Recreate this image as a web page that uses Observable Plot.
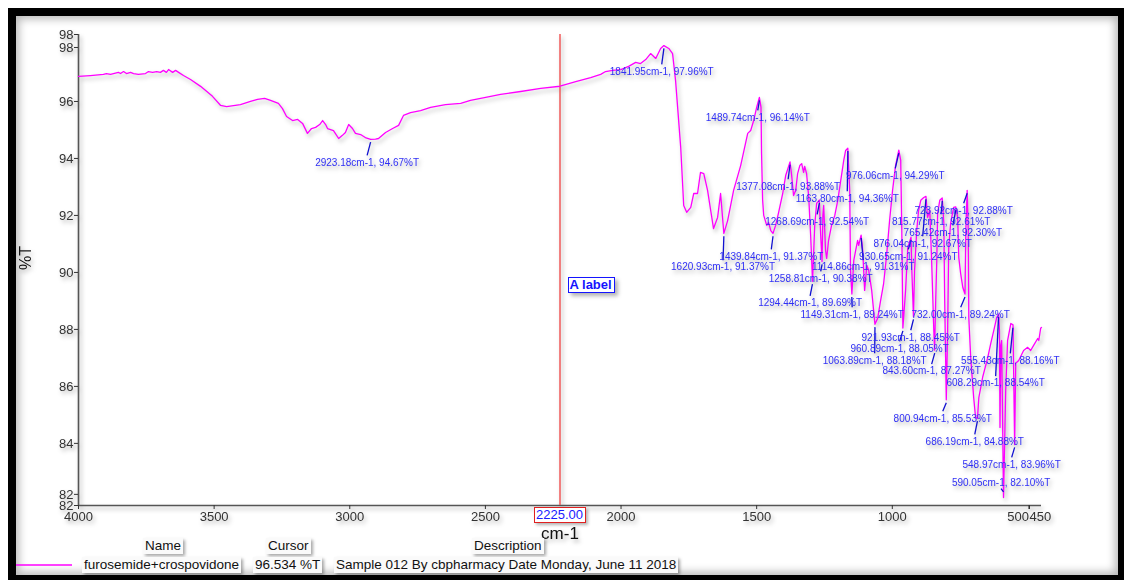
<!DOCTYPE html>
<html>
<head>
<meta charset="utf-8">
<script src="https://cdn.jsdelivr.net/npm/d3@7"></script>
<script src="https://cdn.jsdelivr.net/npm/@observablehq/plot@0.6"></script>
<style>
  html, body { margin: 0; padding: 0; background: #fff; }
  body { width: 1124px; height: 580px; position: relative; overflow: hidden;
         font-family: "Liberation Sans", Arial, sans-serif; }
  #frame { position: absolute; left: 8px; top: 8px; width: 1118px; height: 575px;
           box-sizing: border-box; border: 8px solid #000;
           box-shadow: inset 0 0 9px 3px rgba(0,0,0,0.28); }
  #chart { position: absolute; left: 0; top: 0; }
  #chart svg { filter: drop-shadow(2px 3px 2px rgba(0,0,0,0.3)); }
  .box { position: absolute; white-space: nowrap; line-height: 1; }
  .lg { position: absolute; white-space: nowrap; font-size: 13.5px; line-height: 16px;
        background: #fafafa; padding: 0 2px; box-shadow: 2px 2px 3px rgba(0,0,0,0.35); color: #111; }
</style>
</head>
<body>
<div id="frame"></div>
<div id="chart"></div>
<script>
// ---- data ----
const wavenumber = [4000,3956,3908,3897,3882,3853,3845,3834,3823,3808,3797,3779,3753,3742,3727,3712,3698,3687,3676,3668,3653,3642,3631,3613,3587,3550,3506,3476,3454,3403,3366,3340,3314,3292,3263,3248,3233,3211,3192,3174,3156,3141,3126,3111,3100,3089,3082,3060,3041,3027,3016,3004,2990,2979,2960,2940,2923,2905,2894,2868,2842,2820,2802,2776,2739,2702,2647,2591,2555,2499,2444,2370,2296,2225,2167,2112,2075,2057,2031,2001,1972,1946,1928,1909,1891,1872,1854,1842,1824,1810,1799,1780,1769,1758,1743,1732,1718,1707,1695,1681,1659,1644,1633,1621,1607,1585,1559,1533,1522,1511,1500,1490,1484,1482,1478,1474,1463,1456,1448,1440,1430,1419,1404,1393,1377,1371,1364,1356,1349,1341,1334,1327,1323,1316,1308,1301,1294,1286,1279,1269,1264,1259,1256,1253,1246,1242,1235,1224,1212,1201,1190,1179,1172,1164,1157,1154,1149,1142,1135,1128,1124,1115,1109,1102,1094,1087,1076,1064,1054,1043,1032,1021,1010,999,988,976,969,965,961,951,943,931,928,922,918,910,903,895,884,876,870,862,855,847,844,840,836,833,825,816,810,807,801,796,792,785,774,766,759,755,748,740,732,729,724,720,718,711,700,693,686,681,667,648,637,626,615,608,605,603,600,597,590,582,575,563,555,549,545,534,516,501,490,479,464,460,453,450];
const transmittance = [96.88,96.91,96.95,96.98,96.95,97.02,96.98,97.05,96.98,97.02,96.98,96.95,96.98,97.05,97.02,97.05,97.02,97.09,97.02,97.12,97.02,97.09,97.02,96.91,96.77,96.53,96.18,95.86,95.82,95.89,96.00,96.07,96.11,96.04,95.93,95.75,95.47,95.33,95.37,95.23,94.88,95.05,95.09,95.19,95.33,95.19,95.05,94.98,94.70,94.81,94.91,95.19,95.05,94.88,94.84,94.72,94.67,94.68,94.70,94.91,95.05,95.16,95.51,95.61,95.68,95.79,95.89,95.93,96.04,96.14,96.25,96.35,96.46,96.534,96.70,96.84,96.95,97.05,97.09,97.12,97.23,97.37,97.33,97.47,97.68,97.51,97.86,97.96,97.86,97.68,96.74,94.39,92.35,92.11,92.28,92.77,92.77,93.51,93.47,92.88,91.54,91.93,92.77,91.37,91.82,92.88,93.75,94.88,94.98,95.33,95.79,96.14,95.79,94.18,92.53,92.00,91.65,91.75,91.47,91.37,91.65,92.11,92.77,93.40,93.88,93.40,92.70,92.88,93.47,93.75,93.82,93.51,93.72,93.47,92.63,91.30,89.69,91.65,92.42,92.54,91.30,90.38,92.00,92.35,90.77,90.49,91.12,91.65,92.00,92.53,93.23,93.93,94.28,94.36,92.88,90.07,89.24,90.42,90.77,91.12,90.95,91.31,90.77,89.37,90.25,90.07,89.37,88.18,88.39,89.02,89.61,90.60,91.82,92.88,93.75,94.29,93.93,91.47,88.05,89.37,90.88,91.24,90.07,88.45,90.07,91.47,92.18,92.53,92.63,92.67,91.93,92.18,90.42,87.96,87.27,89.02,90.42,92.07,92.53,92.61,91.72,89.12,85.53,87.96,90.88,91.72,92.28,92.30,91.93,90.53,89.96,89.47,89.24,91.47,92.88,91.47,88.42,87.02,85.61,84.91,84.88,85.61,86.32,87.02,87.51,87.96,88.42,88.54,87.96,84.56,87.44,87.61,82.10,85.86,87.61,88.21,88.16,83.96,86.81,86.91,87.26,87.37,87.26,87.44,87.68,87.61,88.04,88.07];

// peak annotations
const peakWn = [1841.95,2923.18,1489.74,1377.08,1163.80,976.06,1268.69,723.92,815.77,765.42,876.04,930.65,1439.84,1620.93,1114.86,1258.81,1294.44,1149.31,732.00,921.93,960.89,1063.89,843.60,555.43,608.29,800.94,686.19,548.97,590.05];
const peakT  = [97.96,94.67,96.14,93.88,94.36,94.29,92.54,92.88,92.61,92.30,92.67,91.24,91.37,91.37,91.31,90.38,89.69,89.24,89.24,88.45,88.05,88.18,87.27,88.16,88.54,85.53,84.88,83.96,82.10];
const labelWn = [1850,2936,1496,1384,1166,989,1277,737,820,777,888,941,1446,1624,1107,1264,1303,1148,748,932,973,1065,855,565,619,814,696,560,599];
const labelT  = [97.05,93.86,95.44,93.02,92.60,93.40,91.79,92.18,91.79,91.40,91.02,90.56,90.56,90.18,90.18,89.79,88.93,88.53,88.53,87.72,87.33,86.91,86.53,86.91,86.11,84.88,84.07,83.26,82.63];

const xDomain = [4000, 450];
const yDomain = [81.82, 98.35];
const xTicks = [4000, 3500, 3000, 2500, 2000, 1500, 1000];
const yTicks = [84, 86, 88, 90, 92, 94, 96];
const cursorWn = 2225.00;
const cursorT = 96.534;
const noteText = "A label";
const noteT = 89.54;
const seriesName = "furosemide+crospovidone";
const description = "Sample 012 By cbpharmacy Date Monday, June 11 2018";
const legendHeaders = ["Name", "Cursor", "Description"];

// ---- build ----
const spectrum = wavenumber.map((w, i) => ({w, t: transmittance[i]}));
const peaks = peakWn.map((w, i) => ({w, t: peakT[i], lw: labelWn[i], lt: labelT[i]}));
const below = d => d.lt < d.t;

const font = "'Liberation Sans', Arial, sans-serif";
const axisColor = "#333";
const fmt = d => String(d);
const axOpts = {tickSize: 4, fontSize: 13, color: axisColor, label: null, tickFormat: fmt};

const plot = Plot.plot({
  width: 1124,
  height: 540,
  marginLeft: 78,
  marginRight: 83,
  marginTop: 34,
  marginBottom: 35,
  x: {domain: xDomain},
  y: {domain: yDomain},
  style: {fontFamily: font, background: "transparent", overflow: "visible", color: "#111"},
  marks: [
    Plot.ruleX([xDomain[0]], {stroke: "#555", strokeWidth: 1.6}),
    Plot.ruleY([yDomain[0]], {stroke: "#555", strokeWidth: 1.6}),
    Plot.ruleX([cursorWn], {stroke: "#f05a5a", strokeWidth: 1.5}),
    Plot.axisX(xTicks, {...axOpts, tickPadding: 2}),
    Plot.axisX([500], {...axOpts, tickPadding: 2, textAnchor: "end", dx: 1}),
    Plot.axisX([450], {...axOpts, tickPadding: 2, textAnchor: "start", dx: -12}),
    Plot.axisY(yTicks, {...axOpts, tickPadding: 1}),
    Plot.axisY([98], {...axOpts, tickPadding: 1, dy: 3}),
    Plot.axisY([82], {...axOpts, tickPadding: 1, dy: -6}),
    Plot.axisY(yDomain, {...axOpts, tickPadding: 1, tickFormat: d => Math.round(d)}),
    Plot.line(spectrum, {x: "w", y: "t", stroke: "#ff00ff", strokeWidth: 1.3}),
    Plot.link(peaks, {
      x1: "w", y1: d => d.t + (below(d) ? -0.1 : 0.2),
      x2: "lw", y2: d => d.lt + (below(d) ? 0.25 : -0.22),
      stroke: "#1010d0", strokeWidth: 1.3
    }),
    Plot.text(peaks, {
      x: "lw", y: "lt",
      text: d => `${d.w.toFixed(2)}cm-1, ${d.t.toFixed(2)}%T`,
      fontSize: 10, fill: "#3030f5", fontWeight: 500
    }),
    Plot.text(["%T"], {frameAnchor: "left", dx: -53, rotate: -90, fontSize: 16, fill: "#111"}),
    Plot.text(["cm-1"], {frameAnchor: "bottom", lineAnchor: "middle", dy: 28, fontSize: 17, fill: "#111"})
  ]
});
document.getElementById("chart").appendChild(plot);

const xs = plot.scale("x"), ys = plot.scale("y");
const cx = xs.apply(cursorWn);

function addBox(html, style) {
  const el = document.createElement("div");
  el.className = "box";
  el.innerHTML = html;
  Object.assign(el.style, style);
  document.body.appendChild(el);
  return el;
}
// cursor value box below the axis
addBox(cursorWn.toFixed(2), {
  left: (cx - 26) + "px", top: (ys.apply(yDomain[0]) + 2) + "px",
  width: "50px", textAlign: "center",
  fontSize: "13px", color: "#1a1aff", background: "#fff",
  border: "1px solid #e02020", padding: "0px 0 1px 0",
  boxShadow: "2px 2px 3px rgba(0,0,0,0.3)"
});
// note box
addBox(noteText, {
  left: (cx + 8) + "px", top: (ys.apply(noteT) - 8) + "px",
  fontSize: "13px", fontWeight: "bold", color: "#1414ff", background: "#fff",
  border: "1.5px solid #1414ff", padding: "0px 2px 1px 1px",
  boxShadow: "3px 3px 4px rgba(0,0,0,0.3)"
});

// legend table
function lg(text, left, top) {
  const el = document.createElement("div");
  el.className = "lg";
  el.textContent = text;
  el.style.left = left + "px";
  el.style.top = top + "px";
  document.body.appendChild(el);
  return el;
}
lg(legendHeaders[0], 143, 538);
lg(legendHeaders[1], 266, 538);
lg(legendHeaders[2], 472, 538);
lg(seriesName, 82, 557);
lg(cursorT.toFixed(3) + " %T", 253, 557);
lg(description, 334, 557);

// legend swatch
const ns = "http://www.w3.org/2000/svg";
const sw = document.createElementNS(ns, "svg");
sw.setAttribute("width", "60");
sw.setAttribute("height", "6");
Object.assign(sw.style, {position: "absolute", left: "16px", top: "562px", zIndex: 5});
const ln = document.createElementNS(ns, "line");
ln.setAttribute("x1", "0"); ln.setAttribute("x2", "56");
ln.setAttribute("y1", "3"); ln.setAttribute("y2", "3");
ln.setAttribute("stroke", "#ff00ff"); ln.setAttribute("stroke-width", "1.3");
sw.appendChild(ln);
document.body.appendChild(sw);
</script>
</body>
</html>
